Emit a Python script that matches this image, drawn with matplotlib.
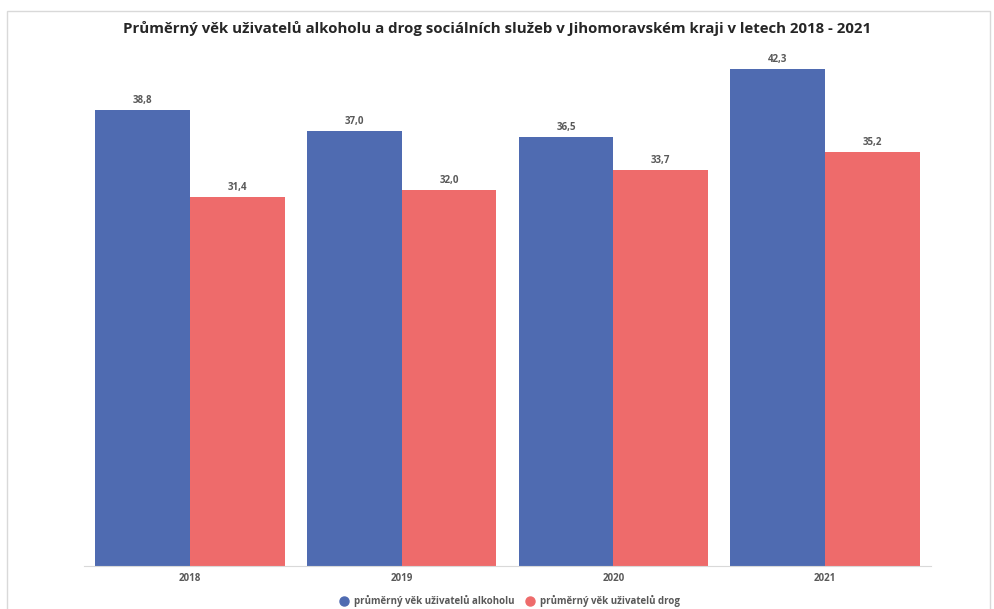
import matplotlib
matplotlib.use('Agg')
import numpy as np
import matplotlib.pyplot as plt
import matplotlib.patches as mpatches
from matplotlib.lines import Line2D

years = ['2018', '2019', '2020', '2021']
alkohol = [38.8, 37.0, 36.5, 42.3]
drogy = [31.4, 32.0, 33.7, 35.2]
series_names = ['průměrný věk uživatelů alkoholu', 'průměrný věk uživatelů drog']
colors = ['#4F6BB1', '#EE6B6B']
title = 'Průměrný věk uživatelů alkoholu a drog sociálních služeb v Jihomoravském kraji v letech 2018 - 2021'

W, H = 995, 609
plt.rcParams['font.family'] = ['Open Sans', 'DejaVu Sans']
fig = plt.figure(figsize=(W / 100, H / 100), dpi=100)

# chart frame
fig.patches.append(mpatches.Rectangle((7 / W, -0.01), 983 / W, (H - 11) / H + 0.01,
                                      transform=fig.transFigure, fill=False,
                                      edgecolor='#D9D9D9', linewidth=1))

left, right, bottom, top = 84, 931, 566, 37
ax = fig.add_axes([left / W, 1 - bottom / H, (right - left) / W, (bottom - top) / H])

x = np.arange(len(years))
bw = 0.448
b1 = ax.bar(x - bw / 2, alkohol, bw, color=colors[0], label=series_names[0])
b2 = ax.bar(x + bw / 2, drogy, bw, color=colors[1], label=series_names[1])

for bars, vals in ((b1, alkohol), (b2, drogy)):
    for r, v in zip(bars, vals):
        ax.text(r.get_x() + r.get_width() / 2, v + 0.35, ('%.1f' % v).replace('.', ','),
                ha='center', va='bottom', fontsize=7, fontweight='bold', color='#595959')

ax.set_xlim(-0.5, len(years) - 0.5)
ax.set_ylim(0, 45)
ax.set_xticks(x)
ax.set_xticklabels(years, fontsize=7, fontweight='bold', color='#595959')
ax.tick_params(axis='x', length=0, pad=5)
ax.set_yticks([])
for s in ['top', 'right', 'left']:
    ax.spines[s].set_visible(False)
ax.spines['bottom'].set_color('#D9D9D9')

fig.text(0.5, 1 - 28 / H, title, ha='center', va='center', fontsize=10.8,
         fontweight='bold', color='#262626')

handles = [Line2D([], [], marker='o', linestyle='', markersize=6.5, color=c) for c in colors]
fig.legend(handles, series_names, loc='center', bbox_to_anchor=(507 / W, 1 - 601 / H),
           ncol=2, frameon=False, handletextpad=0.05, columnspacing=0.6,
           labelcolor='#595959', prop={'weight': 'bold', 'size': 7})

fig.savefig('out.png', dpi=100)
